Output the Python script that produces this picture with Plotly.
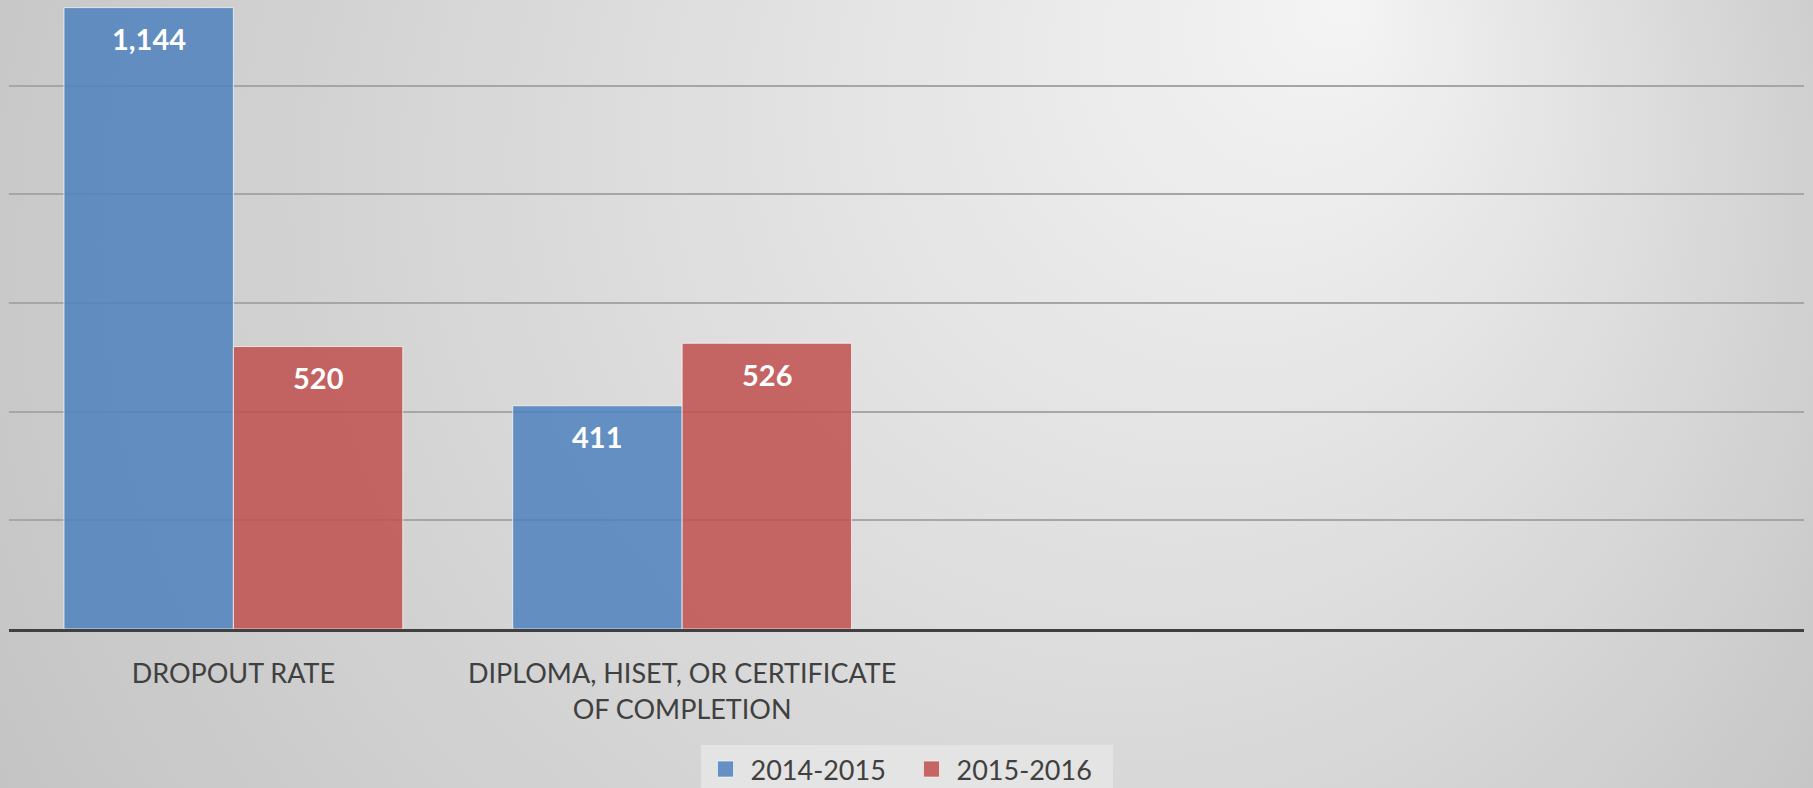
import base64
import plotly.graph_objects as go

categories = ["DROPOUT RATE", "DIPLOMA, HISET, OR CERTIFICATE<br>OF COMPLETION"]
series_names = ["2014-2015", "2015-2016"]
values_2014 = [1144, 411]
values_2015 = [520, 526]
colors = ["rgba(79,129,189,0.85)", "rgba(192,80,77,0.85)"]

BARGAP = 0.245

# soft grey gradient behind everything (Office style)
svg = (
    '<svg xmlns="http://www.w3.org/2000/svg" width="1813" height="788">'
    '<defs><radialGradient id="g" gradientUnits="userSpaceOnUse" cx="900" cy="300" r="1100" fx="1350" fy="0">'
    '<stop offset="0" stop-color="#f4f4f4"/><stop offset="1" stop-color="#c2c2c2"/>'
    '</radialGradient></defs><rect width="1813" height="788" fill="url(#g)"/></svg>'
)
bg = "data:image/svg+xml;base64," + base64.b64encode(svg.encode()).decode()

fig = go.Figure()
for name, vals, col in zip(series_names, [values_2014, values_2015], colors):
    fig.add_trace(go.Bar(
        x=categories, y=vals, name=name, showlegend=False,
        marker=dict(color=col, line=dict(color="rgba(255,255,255,0.7)", width=1)),
    ))
# legend entries with bigger square swatches
for name, col in zip(series_names, colors):
    fig.add_trace(go.Scatter(
        x=[None], y=[None], name=name, mode="markers",
        marker=dict(symbol="square", size=17, color=col,
                    line=dict(color="rgba(255,255,255,0.6)", width=1)),
    ))

# data labels near the top of each bar
half = (1 - BARGAP) / 2
for s, vals in enumerate([values_2014, values_2015]):
    for i, v in enumerate(vals):
        fig.add_annotation(
            x=i + (s - 0.5) * half, y=v, xref="x", yref="y",
            text=f"{v:,}", showarrow=False, yanchor="middle", yshift=-31,
            font=dict(family="Lato", size=29, color="white", weight="bold"),
        )

W, H = 1813, 788
ml, mr, mt, mb = 9, 9, 0, 159
pw, ph = W - ml - mr, H - mt - mb

fig.update_layout(
    width=W, height=H,
    margin=dict(l=ml, r=mr, t=mt, b=mb),
    barmode="group", bargap=BARGAP, bargroupgap=0,
    paper_bgcolor="#d8d8d8", plot_bgcolor="rgba(0,0,0,0)",
    font=dict(family="Lato", color="#404040"),
    images=[dict(source=bg, xref="paper", yref="paper",
                 x=-ml / pw, y=1 + mt / ph, sizex=W / pw, sizey=H / ph,
                 xanchor="left", yanchor="top", sizing="stretch", layer="below")],
    legend=dict(orientation="h", x=0.5, xanchor="center",
                yref="container", y=1 - 745 / H, yanchor="top",
                bgcolor="#e4e4e4", font=dict(family="Lato", size=27, color="#404040"),
                itemwidth=40, entrywidth=151, traceorder="normal"),
    showlegend=True,
)
fig.update_xaxes(
    type="category", range=[-0.5, 3.5],
    showline=True, linecolor="#404040", linewidth=3,
    ticks="outside", ticklen=19, tickcolor="rgba(0,0,0,0)",
    tickfont=dict(family="Lato", size=27, color="#404040"),
    showgrid=False,
)
fig.update_yaxes(
    range=[0, 1158], dtick=200, showticklabels=False,
    showgrid=True, gridcolor="#a6a6a6", gridwidth=1.5,
    zeroline=False,
)

fig.write_html("out.html", config={"displayModeBar": False},
               post_script="document.body.style.margin='0';")
